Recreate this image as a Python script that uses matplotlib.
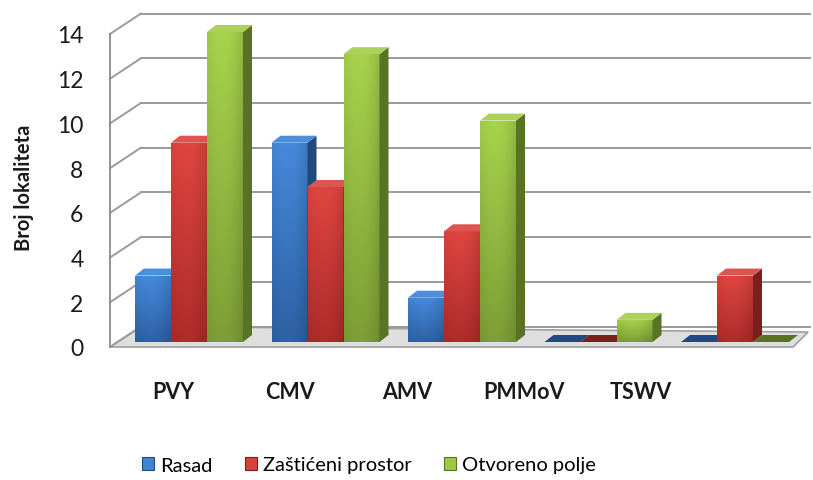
import numpy as np
import matplotlib
matplotlib.use("Agg")
import matplotlib.pyplot as plt
from matplotlib.patches import Polygon, Patch
from matplotlib.lines import Line2D
from matplotlib.transforms import IdentityTransform, ScaledTranslation
from matplotlib.colors import to_rgb

plt.rcParams['font.family'] = ['Lato', 'DejaVu Sans']

categories = ["PVY", "CMV", "AMV", "PMMoV", "TSWV"]
series_names = ["Rasad", "Zaštićeni prostor", "Otvoreno polje"]
rasad = [3, 9, 2, 0, 0]
zasticeni = [9, 7, 5, 0, 3]
otvoreno = [14, 13, 10, 1, 0]
y_ticks = [0, 2, 4, 6, 8, 10, 12, 14]

series = [rasad, zasticeni, otvoreno]
# (front top, front bottom, side, top face)
palette = [
    ("#4283d2", "#2c5d9c", "#22497e", "#4d8edb"),
    ("#d5423d", "#a62a28", "#7c1e1c", "#dc5550"),
    ("#9ec948", "#779733", "#587325", "#acd25c"),
]

W, H = 813, 481
fig = plt.figure(figsize=(W / 100, H / 100), dpi=100)

def fr(x0, y_top, x1, y_bot):
    return [x0 / W, 1 - y_bot / H, (x1 - x0) / W, (y_bot - y_top) / H]

# front axis frame (tick labels, walls, floor)
axf = fig.add_axes(fr(110, 35, 800, 348))
axf.set_xlim(0, 1)
axf.set_ylim(0, 14)
axf.patch.set_visible(False)
for s in ["top", "right", "bottom"]:
    axf.spines[s].set_visible(False)
axf.spines["left"].set_color("#8c8c8c")
axf.spines["left"].set_linewidth(1.3)
axf.set_xticks([])
axf.set_yticks(y_ticks)
axf.set_yticklabels([str(t) for t in y_ticks], fontsize=16.5, color="#1a1a1a")
axf.tick_params(axis="y", length=0, pad=19)

# bars axis
ax = fig.add_axes(fr(110, 33, 800, 343))
ax.set_xlim((110 - 189) / 136.5, (800 - 189) / 136.5)
ax.set_ylim(0, 14)
ax.set_autoscale_on(False)
ax.axis("off")

fig.canvas.draw()

DX, DY = 31, 20.5  # wall depth in px
wall_off = ScaledTranslation(DX / 100, DY / 100, fig.dpi_scale_trans)
grid_col = "#9a9a9a"

# floor (drawn inside the back axes so it stays behind the bars)
p_fl = axf.transAxes.transform((0, 0))
p_fr = axf.transAxes.transform((0.99, 0))
floor = Polygon([p_fl, p_fr, p_fr + [15, 15], p_fl + [DX, DY]], closed=True,
                transform=IdentityTransform(), facecolor="#dedede",
                edgecolor="#a0a0a0", lw=1.2, zorder=0, clip_on=False)
axf.add_patch(floor)

# back wall gridlines + diagonals
for v in y_ticks:
    axf.plot([0, 0.97], [v, v], color=grid_col, lw=1.4,
             transform=axf.get_yaxis_transform() + wall_off, clip_on=False, zorder=1)
    p = axf.get_yaxis_transform().transform((0, v))
    axf.add_line(Line2D([p[0], p[0] + DX], [p[1], p[1] + DY], color=grid_col,
                        lw=1.4, transform=IdentityTransform(), clip_on=False, zorder=1))

# bars
w = 36 / 136.5
bdx, bdy = 9, 7
x = np.arange(len(categories))

def grad_img(c_top, c_bot):
    t = np.linspace(0, 1, 60)[:, None]
    h = np.linspace(0, 1, 30)[None, :]
    a, b = np.array(to_rgb(c_top)), np.array(to_rgb(c_bot))
    img = a[None, None, :] * (1 - t[..., None]) + b[None, None, :] * t[..., None]
    shade = 1.0 + 0.06 * np.sin(np.pi * h)[..., None] - 0.08 * (h[..., None] ** 3)
    return np.clip(img * shade, 0, 1)

z = 3
for i in range(len(categories)):
    for j, vals in enumerate(series):
        v = vals[i]
        ctop, cbot, cside, ctopface = palette[j]
        x0 = x[i] + (j - 1) * w - w / 2
        x1 = x0 + w
        bars = ax.bar(x0, v, width=w, align="edge", color=cbot, lw=0, zorder=z)
        if v > 0:
            im = ax.imshow(grad_img(ctop, cbot), extent=(x0, x1, 0, v), aspect="auto",
                           zorder=z + 0.1, interpolation="bilinear")
            im.set_clip_path(bars[0])
        p0 = ax.transData.transform((x1, 0))
        p1 = ax.transData.transform((x1, v))
        if v > 0:
            side = Polygon([p0, p0 + [bdx, bdy], p1 + [bdx, bdy], p1], closed=True,
                           transform=IdentityTransform(), facecolor=cside, lw=0,
                           zorder=z + 0.2, clip_on=False)
            ax.add_patch(side)
        q0 = ax.transData.transform((x0, v))
        top = Polygon([q0, p1, p1 + [bdx, bdy], q0 + [bdx, bdy]], closed=True,
                      transform=IdentityTransform(),
                      facecolor=ctopface if v > 0 else cside, lw=0, zorder=z + 0.3,
                      clip_on=False)
        ax.add_patch(top)
        z += 1
ax.set_xlim((110 - 189) / 136.5, (800 - 189) / 136.5)
ax.set_ylim(0, 14)

# category labels (front edge, perspective-compressed)
for i, c in enumerate(categories):
    fig.text((173 + 117 * i) / W, 1 - 393 / H, c, ha="center", va="center",
             fontsize=15.5, fontweight="bold", color="#1a1a1a")

fig.text(24 / W, 1 - 188 / H, "Broj lokaliteta", rotation=90, ha="center",
         va="center", fontsize=14.5, fontweight="bold", color="#1a1a1a")

handles = [Patch(facecolor=palette[j][0], edgecolor=palette[j][2], lw=0.8,
                 label=series_names[j]) for j in range(3)]
fig.legend(handles=handles, loc="center", bbox_to_anchor=(369 / W, 1 - 466 / H),
           ncol=3, frameon=False, fontsize=14.5, handlelength=0.6, handleheight=0.6,
           handletextpad=0.3, columnspacing=1.6)

fig.savefig("out.png", dpi=100)
